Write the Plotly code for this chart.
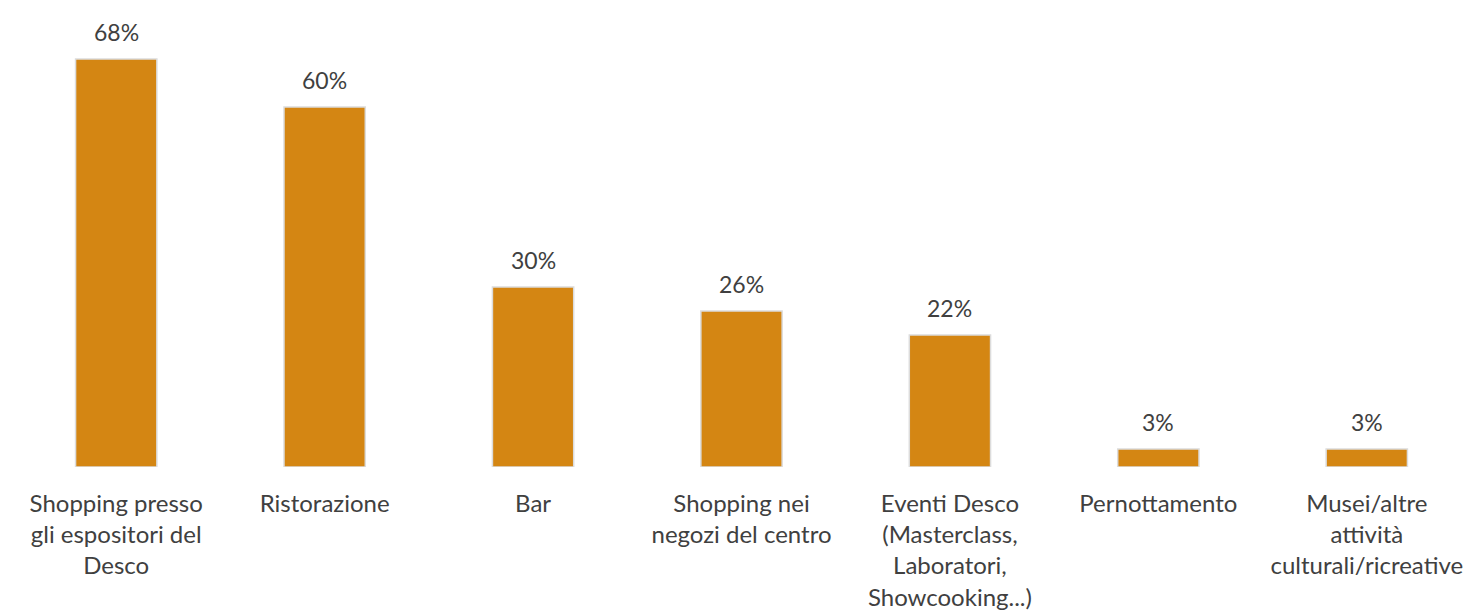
import plotly.graph_objects as go

# Activities carried out during the visit (share of respondents, %)
categories = [
    "Shopping presso<br>gli espositori del<br>Desco",
    "Ristorazione",
    "Bar",
    "Shopping nei<br>negozi del centro",
    "Eventi Desco<br>(Masterclass,<br>Laboratori,<br>Showcooking...)",
    "Pernottamento",
    "Musei/altre<br>attività<br>culturali/ricreative",
]
values = [68, 60, 30, 26, 22, 3, 3]
value_labels = [f"{v}%" for v in values]

BAR_COLOR = "#D48613"
TEXT_COLOR = "#404040"
FONT = "Lato, 'Open Sans', sans-serif"

fig = go.Figure(
    go.Bar(
        x=categories,
        y=values,
        marker=dict(color=BAR_COLOR, line=dict(color="#dcdcdc", width=1.5)),
        hoverinfo="skip",
    )
)

# Percentage labels floating above each bar
for cat, val, lab in zip(categories, values, value_labels):
    fig.add_annotation(
        x=cat,
        y=val,
        text=lab,
        showarrow=False,
        yanchor="bottom",
        yshift=11,
        font=dict(family=FONT, size=23, color=TEXT_COLOR),
    )

fig.update_layout(
    width=1472,
    height=615,
    margin=dict(l=12, r=1, t=20, b=148),
    paper_bgcolor="white",
    plot_bgcolor="white",
    bargap=0.61,
    showlegend=False,
    font=dict(family=FONT, size=24, color=TEXT_COLOR),
)
fig.update_xaxes(
    showline=False,
    showgrid=False,
    zeroline=False,
    ticks="",
    tickangle=0,
    tickfont=dict(family=FONT, size=24, color=TEXT_COLOR),
    ticklabelstandoff=20,
)
fig.update_yaxes(
    range=[0, 74.5],
    visible=False,
    showgrid=False,
    zeroline=False,
)

fig.write_html("out.html", config={"displayModeBar": False})
